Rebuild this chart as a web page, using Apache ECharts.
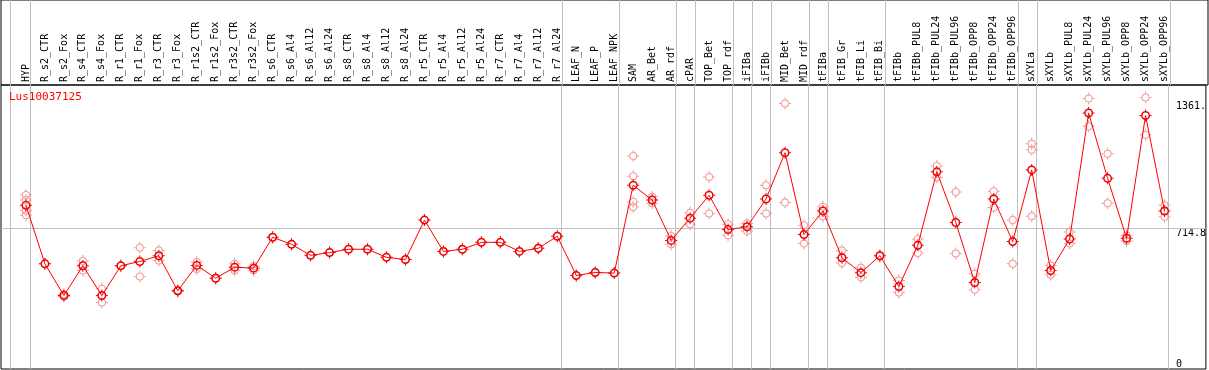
<!DOCTYPE html>
<html>
<head>
<meta charset="utf-8">
<script src="https://cdn.jsdelivr.net/npm/echarts@6/dist/echarts.min.js"></script>
<style>
html,body{margin:0;padding:0;background:#fff;}
#chart{width:1209px;height:370px;}
</style>
</head>
<body>
<div id="chart"></div>
<script>
// ---- data ----
const title = 'Lus10037125';
const categories = ['HYP','R_s2_CTR','R_s2_Fox','R_s4_CTR','R_s4_Fox','R_r1_CTR','R_r1_Fox','R_r3_CTR','R_r3_Fox','R_r1s2_CTR','R_r1s2_Fox','R_r3s2_CTR','R_r3s2_Fox','R_s6_CTR','R_s6_Al4','R_s6_Al12','R_s6_Al24','R_s8_CTR','R_s8_Al4','R_s8_Al12','R_s8_Al24','R_r5_CTR','R_r5_Al4','R_r5_Al12','R_r5_Al24','R_r7_CTR','R_r7_Al4','R_r7_Al12','R_r7_Al24','LEAF_N','LEAF_P','LEAF_NPK','SAM','AR_Bet','AR_rdf','cPAR','TOP_Bet','TOP_rdf','iFIBa','iFIBb','MID_Bet','MID_rdf','tFIBa','tFIB_Gr','tFIB_Li','tFIB_Bi','tFIBb','tFIBb_PUL8','tFIBb_PUL24','tFIBb_PUL96','tFIBb_OPP8','tFIBb_OPP24','tFIBb_OPP96','sXYLa','sXYLb','sXYLb_PUL8','sXYLb_PUL24','sXYLb_PUL96','sXYLb_OPP8','sXYLb_OPP24','sXYLb_OPP96'];
const meanValues = [831,534,373,524,373,524,546,575,397,526,461,517,512,669,633,577,591,608,608,567,556,756,597,608,643,643,597,613,674,475,490,487,933,858,653,766,882,708,722,863,1098,683,802,565,489,575,419,628,1001,744,439,863,647,1011,500,660,1300,968,664,1287,802];
const replicateValues = [
  [883,858,805,781],[534],[380,368],[548,500],[407,338],[524],[616,470],[602,551],[400,394],[543,508],
  [461],[534,500],[522,502],[669],[633],[577],[591],[608],[608],[567],
  [556],[756],[597],[608],[643],[643],[597],[613],[674],[475],
  [490],[487],[1082,979,849,822],[875,841],[675,633],[793,735],[975,790],[735,679],[739,701],[933,790],
  [1348,846],[730,637],[824,776],[602,538],[514,466],[575],[449,388],[660,589],[1031,974],[899,587],
  [483,402],[902,820],[756,534],[1144,1113,776],[526,478],[696,637],[1373,1232],[1093,841],[679,650],[1379,1190],
  [832,773]
];
const separatorPositions = [-0.84,0.22,28.22,31.22,34.22,35.22,37.22,38.22,39.22,41.22,42.22,45.22,52.22,53.22,60.22];
const refLineValue = 714.8;
const yTickValues = [0, 714.8, 1361];
const yTickLabels = ['0', '714.8', '1361.'];

// ---- chart ----
const MONO = 'DejaVu Sans Mono';
const xMin = -1.315, xMax = 62.18, yMax = 1442;
const ringSmall = 'path://M2,6A4,4 0 1,0 10,6A4,4 0 1,0 2,6Z M3,6A3,3 0 1,1 9,6A3,3 0 1,1 3,6Z M5.5,0h1v2h-1Z M5.5,10h1v2h-1Z M0,5.5h2v1h-2Z M10,5.5h2v1h-2Z';
const ringBig = 'path://M1.5,6A4.5,4.5 0 1,0 10.5,6A4.5,4.5 0 1,0 1.5,6Z M3,6A3,3 0 1,1 9,6A3,3 0 1,1 3,6Z M5.5,0h1v1.5h-1Z M5.5,10.5h1v1.5h-1Z M0,5.5h1.5v1h-1.5Z M10.5,5.5h1.5v1h-1.5Z';

const repData = [];
replicateValues.forEach((arr, i) => arr.forEach(v => repData.push([i, v])));
const meanData = meanValues.map((v, i) => [i, v]);
const labelMap = {};
yTickValues.forEach((v, i) => labelMap[v] = yTickLabels[i]);

const chart = echarts.init(document.getElementById('chart'), null, {renderer: 'canvas'});
const sepLine = {color: '#c0c0c0', width: 1, type: 'solid'};
chart.setOption({
  animation: false,
  backgroundColor: '#fff',
  title: {
    text: title, left: 4, top: 87,
    textStyle: {color: '#ff0000', fontFamily: MONO, fontSize: 11, fontWeight: 'normal'}
  },
  grid: [
    {left: 1, right: 1, top: 85, bottom: 1, show: true, borderColor: '#000', borderWidth: 1, backgroundColor: 'transparent'},
    {left: 1, right: 1, top: 0, height: 85, show: true, borderColor: '#000', borderWidth: 1, backgroundColor: 'transparent'}
  ],
  xAxis: [
    {
      type: 'value', gridIndex: 0, min: xMin, max: xMax, position: 'top',
      axisLine: {show: false}, axisTick: {show: false}, splitLine: {show: false},
      axisLabel: {
        customValues: categories.map((c, i) => i),
        formatter: v => categories[Math.round(v)] || '',
        rotate: 90, margin: 3, fontFamily: MONO, fontSize: 10, color: '#000'
      }
    },
    {type: 'value', gridIndex: 1, min: xMin, max: xMax, show: false}
  ],
  yAxis: [
    {
      type: 'value', gridIndex: 0, min: 0, max: yMax, position: 'right',
      axisLine: {show: false}, axisTick: {show: false}, splitLine: {show: false},
      axisLabel: {
        inside: true, customValues: [yTickValues[1], yTickValues[2]],
        formatter: v => labelMap[v] || '',
        align: 'left', verticalAlign: 'top', margin: 30,
        fontFamily: MONO, fontSize: 10, color: '#000'
      }
    },
    {
      type: 'value', gridIndex: 0, min: 0, max: yMax, position: 'right',
      axisLine: {show: false}, axisTick: {show: false}, splitLine: {show: false},
      axisLabel: {
        inside: true, customValues: [yTickValues[0]],
        formatter: v => labelMap[v] || '',
        align: 'left', verticalAlign: 'bottom', margin: 30,
        fontFamily: MONO, fontSize: 10, color: '#000'
      }
    },
    {type: 'value', gridIndex: 1, min: 0, max: 1, show: false}
  ],
  series: [
    {
      type: 'line', xAxisIndex: 1, yAxisIndex: 2, data: [], silent: true,
      markLine: {
        silent: true, symbol: 'none', label: {show: false}, lineStyle: sepLine, animation: false,
        data: separatorPositions.map(x => ({xAxis: x}))
      }
    },
    {
      type: 'scatter', xAxisIndex: 0, yAxisIndex: 0, data: repData, z: 3,
      symbol: ringSmall, symbolSize: 12,
      itemStyle: {color: '#f09a9a', borderWidth: 0, opacity: 1}
    },
    {
      type: 'line', xAxisIndex: 0, yAxisIndex: 0, data: meanData, z: 4,
      symbol: ringBig, symbolSize: 12, showSymbol: true,
      lineStyle: {color: '#ff0000', width: 1},
      itemStyle: {color: '#ee0000', borderWidth: 0},
      markLine: {
        silent: true, symbol: 'none', label: {show: false}, lineStyle: sepLine, z: 1, animation: false,
        data: [{yAxis: refLineValue}].concat(separatorPositions.map(x => ({xAxis: x})))
      }
    }
  ]
});
</script>
</body>
</html>
